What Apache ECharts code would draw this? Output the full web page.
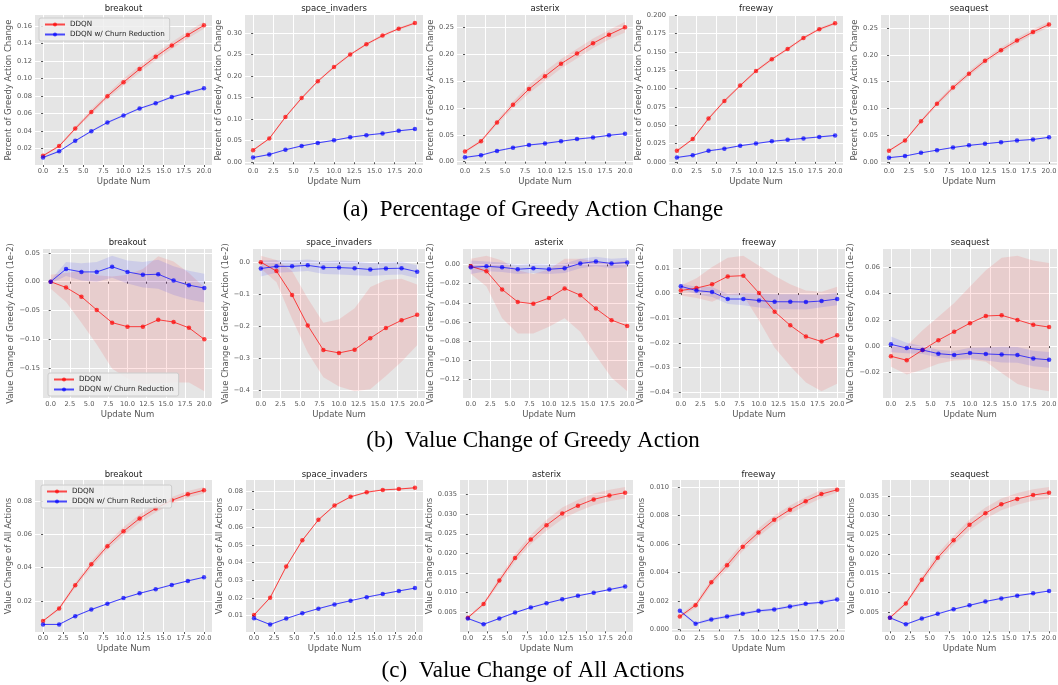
<!DOCTYPE html>
<html>
<head>
<meta charset="utf-8">
<script src="https://cdn.jsdelivr.net/npm/echarts@6/dist/echarts.min.js"></script>
<style>
  html, body { margin: 0; padding: 0; background: #fff; }
  #chart { width: 1058px; height: 685px; }
</style>
</head>
<body>
<div id="chart"></div>
<script>
// ---- data ----
const updateNum = [0, 2, 4, 6, 8, 10, 12, 14, 16, 18, 20];
const xTicks = [0, 2.5, 5, 7.5, 10, 12.5, 15, 17.5, 20];
const games = ["breakout", "space_invaders", "asterix", "freeway", "seaquest"];
const legendNames = ["DDQN", "DDQN w/ Churn Reduction"];

// (a) percent of greedy action change
const pctBreakoutDdqn = [0.012, 0.023, 0.043, 0.062, 0.080, 0.096, 0.111, 0.125, 0.138, 0.150, 0.161];
const pctBreakoutDdqnSd = [0.001, 0.0015, 0.002, 0.003, 0.003, 0.004, 0.004, 0.004, 0.004, 0.004, 0.004];
const pctBreakoutChurn = [0.010, 0.017, 0.029, 0.040, 0.050, 0.058, 0.066, 0.072, 0.079, 0.084, 0.089];
const pctBreakoutChurnSd = [0.0008, 0.001, 0.001, 0.0012, 0.0012, 0.0012, 0.0012, 0.0012, 0.0012, 0.0012, 0.0012];

const pctSpaceDdqn = [0.028, 0.055, 0.105, 0.149, 0.188, 0.221, 0.250, 0.274, 0.294, 0.310, 0.323];
const pctSpaceDdqnSd = [0.002, 0.002, 0.003, 0.003, 0.003, 0.003, 0.003, 0.003, 0.003, 0.003, 0.003];
const pctSpaceChurn = [0.011, 0.018, 0.029, 0.038, 0.045, 0.051, 0.058, 0.063, 0.067, 0.073, 0.077];
const pctSpaceChurnSd = [0.0015, 0.0015, 0.0015, 0.0015, 0.0015, 0.0015, 0.0015, 0.0015, 0.0015, 0.0015, 0.0015];

const pctAsterixDdqn = [0.019, 0.038, 0.073, 0.106, 0.135, 0.159, 0.182, 0.201, 0.220, 0.236, 0.250];
const pctAsterixDdqnSd = [0.002, 0.003, 0.004, 0.006, 0.008, 0.009, 0.009, 0.009, 0.009, 0.009, 0.010];
const pctAsterixChurn = [0.008, 0.012, 0.020, 0.026, 0.031, 0.034, 0.038, 0.042, 0.045, 0.049, 0.052];
const pctAsterixChurnSd = [0.0015, 0.0015, 0.0015, 0.0015, 0.0015, 0.0015, 0.0015, 0.0015, 0.0015, 0.0015, 0.0015];

const pctFreewayDdqn = [0.015, 0.031, 0.059, 0.083, 0.104, 0.124, 0.140, 0.154, 0.169, 0.181, 0.189];
const pctFreewayDdqnSd = [0.0015, 0.0015, 0.002, 0.002, 0.002, 0.002, 0.002, 0.002, 0.002, 0.002, 0.002];
const pctFreewayChurn = [0.006, 0.009, 0.015, 0.018, 0.022, 0.025, 0.028, 0.030, 0.032, 0.034, 0.036];
const pctFreewayChurnSd = [0.001, 0.001, 0.001, 0.001, 0.001, 0.001, 0.001, 0.001, 0.001, 0.001, 0.001];

const pctSeaquestDdqn = [0.021, 0.040, 0.076, 0.109, 0.139, 0.165, 0.189, 0.209, 0.227, 0.243, 0.257];
const pctSeaquestDdqnSd = [0.002, 0.002, 0.003, 0.004, 0.005, 0.005, 0.005, 0.005, 0.005, 0.005, 0.005];
const pctSeaquestChurn = [0.008, 0.011, 0.017, 0.022, 0.027, 0.031, 0.034, 0.037, 0.040, 0.042, 0.046];
const pctSeaquestChurnSd = [0.001, 0.001, 0.001, 0.001, 0.001, 0.001, 0.001, 0.001, 0.001, 0.001, 0.001];

// (b) value change of greedy action (1e-2)
const greedyBreakoutDdqn = [0.000, -0.010, -0.026, -0.049, -0.071, -0.078, -0.078, -0.066, -0.070, -0.080, -0.100];
const greedyBreakoutDdqnSd = [0.012, 0.025, 0.045, 0.060, 0.080, 0.090, 0.100, 0.110, 0.105, 0.095, 0.090];
const greedyBreakoutChurn = [0.000, 0.022, 0.017, 0.017, 0.026, 0.017, 0.012, 0.013, 0.002, -0.006, -0.011];
const greedyBreakoutChurnSd = [0.003, 0.012, 0.015, 0.017, 0.019, 0.020, 0.022, 0.025, 0.025, 0.025, 0.025];

const greedySpaceDdqn = [0.000, -0.028, -0.103, -0.198, -0.275, -0.284, -0.274, -0.238, -0.206, -0.182, -0.165];
const greedySpaceDdqnSd = [0.020, 0.035, 0.075, 0.085, 0.085, 0.105, 0.130, 0.160, 0.150, 0.130, 0.095];
const greedySpaceChurn = [-0.020, -0.013, -0.013, -0.010, -0.017, -0.017, -0.019, -0.023, -0.020, -0.019, -0.030];
const greedySpaceChurnSd = [0.025, 0.020, 0.018, 0.018, 0.020, 0.022, 0.022, 0.020, 0.020, 0.020, 0.020];

const greedyAsterixDdqn = [-0.002, -0.007, -0.026, -0.039, -0.041, -0.035, -0.025, -0.032, -0.046, -0.058, -0.064];
const greedyAsterixDdqnSd = [0.008, 0.016, 0.030, 0.033, 0.031, 0.030, 0.031, 0.038, 0.049, 0.060, 0.068];
const greedyAsterixChurn = [-0.003, -0.002, -0.003, -0.005, -0.004, -0.005, -0.004, 0.001, 0.003, 0.001, 0.002];
const greedyAsterixChurnSd = [0.007, 0.005, 0.005, 0.005, 0.005, 0.005, 0.005, 0.005, 0.005, 0.005, 0.005];

const greedyFreewayDdqn = [0.001, 0.002, 0.0035, 0.0067, 0.007, 0.000, -0.0075, -0.013, -0.0175, -0.0195, -0.017];
const greedyFreewayDdqnSd = [0.002, 0.004, 0.007, 0.0075, 0.008, 0.011, 0.0145, 0.0165, 0.0185, 0.020, 0.0195];
const greedyFreewayChurn = [0.0027, 0.001, 0.0004, -0.0024, -0.0024, -0.003, -0.0035, -0.0035, -0.0036, -0.0032, -0.0024];
const greedyFreewayChurnSd = [0.001, 0.0015, 0.002, 0.002, 0.0025, 0.0028, 0.003, 0.003, 0.003, 0.0025, 0.0025];

const greedySeaquestDdqn = [-0.0078, -0.0108, -0.003, 0.0045, 0.011, 0.0175, 0.023, 0.0235, 0.020, 0.0163, 0.0145];
const greedySeaquestDdqnSd = [0.008, 0.011, 0.015, 0.018, 0.022, 0.028, 0.035, 0.044, 0.049, 0.049, 0.049];
const greedySeaquestChurn = [0.0013, -0.0015, -0.003, -0.0058, -0.0068, -0.0053, -0.006, -0.0065, -0.0068, -0.0095, -0.0105];
const greedySeaquestChurnSd = [0.006, 0.004, 0.003, 0.003, 0.003, 0.004, 0.005, 0.006, 0.006, 0.006, 0.006];

// (c) value change of all actions
const allBreakoutDdqn = [0.0078, 0.0153, 0.0294, 0.042, 0.053, 0.062, 0.0697, 0.0758, 0.0807, 0.0843, 0.0868];
const allBreakoutDdqnSd = [0.0005, 0.001, 0.0015, 0.002, 0.002, 0.0025, 0.0025, 0.0025, 0.002, 0.002, 0.002];
const allBreakoutChurn = [0.0057, 0.0057, 0.0107, 0.0147, 0.0182, 0.0216, 0.0245, 0.0270, 0.0296, 0.0320, 0.0342];
const allBreakoutChurnSd = [0.0004, 0.0004, 0.0004, 0.0004, 0.0004, 0.0004, 0.0004, 0.0004, 0.0004, 0.0004, 0.0004];

const allSpaceDdqn = [0.0103, 0.0201, 0.0377, 0.0525, 0.0641, 0.0722, 0.0771, 0.0797, 0.0810, 0.0815, 0.0822];
const allSpaceDdqnSd = [0.0004, 0.0005, 0.0005, 0.0005, 0.0005, 0.0005, 0.0005, 0.0005, 0.0005, 0.0005, 0.0005];
const allSpaceChurn = [0.0085, 0.0049, 0.0083, 0.0113, 0.0139, 0.0163, 0.0184, 0.0204, 0.0222, 0.0239, 0.0255];
const allSpaceChurnSd = [0.0003, 0.0003, 0.0003, 0.0003, 0.0003, 0.0003, 0.0003, 0.0003, 0.0003, 0.0003, 0.0003];

const allAsterixDdqn = [0.0035, 0.007, 0.013, 0.0188, 0.0235, 0.0272, 0.0302, 0.0322, 0.0338, 0.0348, 0.0355];
const allAsterixDdqnSd = [0.0003, 0.0005, 0.0008, 0.001, 0.0012, 0.0014, 0.0015, 0.0015, 0.0015, 0.0015, 0.0015];
const allAsterixChurn = [0.0033, 0.0018, 0.0033, 0.0048, 0.0061, 0.0072, 0.0082, 0.0091, 0.0099, 0.0107, 0.0115];
const allAsterixChurnSd = [0.0002, 0.0002, 0.0002, 0.0002, 0.0002, 0.0002, 0.0002, 0.0002, 0.0002, 0.0002, 0.0002];

const allFreewayDdqn = [0.0009, 0.0017, 0.0033, 0.0045, 0.0058, 0.0068, 0.0077, 0.0084, 0.0090, 0.0095, 0.0098];
const allFreewayDdqnSd = [0.0001, 0.0002, 0.0002, 0.0003, 0.0003, 0.0003, 0.0003, 0.0003, 0.0003, 0.0003, 0.0002];
const allFreewayChurn = [0.0013, 0.0004, 0.0007, 0.0009, 0.0011, 0.0013, 0.0014, 0.0016, 0.0018, 0.0019, 0.0021];
const allFreewayChurnSd = [0.0001, 0.0001, 0.0001, 0.0001, 0.0001, 0.0001, 0.0001, 0.0001, 0.0001, 0.0001, 0.0001];

const allSeaquestDdqn = [0.0035, 0.0072, 0.0133, 0.019, 0.0235, 0.0275, 0.0305, 0.0328, 0.0342, 0.0352, 0.0358];
const allSeaquestDdqnSd = [0.0003, 0.0005, 0.0008, 0.001, 0.0012, 0.0014, 0.0015, 0.0015, 0.0015, 0.0015, 0.0015];
const allSeaquestChurn = [0.0035, 0.0018, 0.0033, 0.0045, 0.0057, 0.0067, 0.0077, 0.0085, 0.0092, 0.0098, 0.0104];
const allSeaquestChurnSd = [0.0002, 0.0002, 0.0002, 0.0002, 0.0002, 0.0002, 0.0002, 0.0002, 0.0002, 0.0002, 0.0002];

// y tick labels per panel
const yTicksA = [
  [0.02, 0.04, 0.06, 0.08, 0.10, 0.12, 0.14, 0.16],
  [0.00, 0.05, 0.10, 0.15, 0.20, 0.25, 0.30],
  [0.00, 0.05, 0.10, 0.15, 0.20, 0.25],
  [0.000, 0.025, 0.050, 0.075, 0.100, 0.125, 0.150, 0.175, 0.200],
  [0.00, 0.05, 0.10, 0.15, 0.20, 0.25]
];
const yTicksB = [
  [-0.15, -0.10, -0.05, 0.00, 0.05],
  [-0.4, -0.3, -0.2, -0.1, 0.0],
  [-0.12, -0.10, -0.08, -0.06, -0.04, -0.02, 0.00],
  [-0.04, -0.03, -0.02, -0.01, 0.00, 0.01],
  [-0.02, 0.00, 0.02, 0.04, 0.06]
];
const yTicksC = [
  [0.02, 0.04, 0.06, 0.08],
  [0.01, 0.02, 0.03, 0.04, 0.05, 0.06, 0.07, 0.08],
  [0.005, 0.010, 0.015, 0.020, 0.025, 0.030, 0.035],
  [0.000, 0.002, 0.004, 0.006, 0.008, 0.010],
  [0.005, 0.010, 0.015, 0.020, 0.025, 0.030, 0.035]
];
const yDecimals = [[2, 2, 2, 3, 2], [2, 1, 2, 2, 2], [2, 2, 3, 3, 3]];
const yNames = ["Percent of Greedy Action Change", "Value Change of Greedy Action (1e-2)", "Value Change of All Actions"];
const captions = ["(a)  Percentage of Greedy Action Change", "(b)  Value Change of Greedy Action", "(c)  Value Change of All Actions"];

const rows = [
  [
    [pctBreakoutDdqn, pctBreakoutDdqnSd, pctBreakoutChurn, pctBreakoutChurnSd],
    [pctSpaceDdqn, pctSpaceDdqnSd, pctSpaceChurn, pctSpaceChurnSd],
    [pctAsterixDdqn, pctAsterixDdqnSd, pctAsterixChurn, pctAsterixChurnSd],
    [pctFreewayDdqn, pctFreewayDdqnSd, pctFreewayChurn, pctFreewayChurnSd],
    [pctSeaquestDdqn, pctSeaquestDdqnSd, pctSeaquestChurn, pctSeaquestChurnSd]
  ],
  [
    [greedyBreakoutDdqn, greedyBreakoutDdqnSd, greedyBreakoutChurn, greedyBreakoutChurnSd],
    [greedySpaceDdqn, greedySpaceDdqnSd, greedySpaceChurn, greedySpaceChurnSd],
    [greedyAsterixDdqn, greedyAsterixDdqnSd, greedyAsterixChurn, greedyAsterixChurnSd],
    [greedyFreewayDdqn, greedyFreewayDdqnSd, greedyFreewayChurn, greedyFreewayChurnSd],
    [greedySeaquestDdqn, greedySeaquestDdqnSd, greedySeaquestChurn, greedySeaquestChurnSd]
  ],
  [
    [allBreakoutDdqn, allBreakoutDdqnSd, allBreakoutChurn, allBreakoutChurnSd],
    [allSpaceDdqn, allSpaceDdqnSd, allSpaceChurn, allSpaceChurnSd],
    [allAsterixDdqn, allAsterixDdqnSd, allAsterixChurn, allAsterixChurnSd],
    [allFreewayDdqn, allFreewayDdqnSd, allFreewayChurn, allFreewayChurnSd],
    [allSeaquestDdqn, allSeaquestDdqnSd, allSeaquestChurn, allSeaquestChurnSd]
  ]
];
const yTicks = [yTicksA, yTicksB, yTicksC];

// ---- layout ----
const rowTop = [15, 249, 480];
const rowBottom = [165, 398, 632];
const colLeft = [[35, 245, 457, 669, 881], [43, 253, 463, 673, 883], [35, 246, 460, 672, 882]];
const colRight = [[212, 423, 633, 843, 1057], [212, 425, 635, 845, 1057], [212, 423, 633, 845, 1057]];
const nameCenterGap = [[23, 23, 24, 28, 25], [28, 25, 30, 29, 29], [23, 23, 28, 28, 28]];
const titleTop = [4, 238, 470];
const captionTop = [198, 429, 659];
const legendPos = [[39, 18], [48, 373], [41, 485]];

const RED = "rgba(255,0,0,0.7)";
const BLUE = "rgba(0,0,255,0.7)";
const RED_BAND = "rgba(255,0,0,0.1)";
const BLUE_BAND = "rgba(0,0,255,0.1)";
const TICK_COLOR = "#555";

const fmt = (v, d) => (v < -1e-12 ? "\u2212" + (-v).toFixed(d) : Math.abs(v).toFixed(d));

const chart = echarts.init(document.getElementById("chart"));
const grid = [], xAxis = [], yAxis = [], series = [], title = [];

rows.forEach((panels, r) => {
  panels.forEach((p, c) => {
    const idx = grid.length;
    const [ddqn, ddqnSd, churn, churnSd] = p;
    const left = colLeft[r][c], right = colRight[r][c];
    // y extent like matplotlib autoscale (5% margin)
    let lo = Infinity, hi = -Infinity;
    ddqn.forEach((v, k) => { lo = Math.min(lo, v - ddqnSd[k]); hi = Math.max(hi, v + ddqnSd[k]); });
    churn.forEach((v, k) => { lo = Math.min(lo, v - churnSd[k]); hi = Math.max(hi, v + churnSd[k]); });
    const pad = (hi - lo) * 0.05;

    grid.push({
      left: left, top: rowTop[r], width: right - left, height: rowBottom[r] - rowTop[r],
      show: true, backgroundColor: "#E5E5E5", borderWidth: 0, containLabel: false, outerBoundsMode: "none"
    });
    title.push({
      text: games[c], left: (left + right) / 2, top: titleTop[r], textAlign: "center", padding: 0,
      textStyle: { fontSize: 8.5, fontWeight: "normal", color: "#222", fontFamily: "DejaVu Sans" }
    });
    xAxis.push({
      type: "value", gridIndex: idx, min: -1, max: 21,
      name: "Update Num", nameLocation: "middle", nameGap: 12,
      nameTextStyle: { fontSize: 8.5, color: TICK_COLOR, fontFamily: "DejaVu Sans" },
      axisLine: { show: false },
      axisTick: { show: true, customValues: xTicks, length: 2, lineStyle: { color: TICK_COLOR } },
      axisLabel: { customValues: xTicks, formatter: (v) => v.toFixed(1), fontSize: 6.7, color: TICK_COLOR, margin: 3, fontFamily: "DejaVu Sans" },
      splitLine: { show: true, lineStyle: { color: "#fff", width: 1 } }
    });
    yAxis.push({
      type: "value", gridIndex: idx, min: lo - pad, max: hi + pad,
      name: yNames[r], nameLocation: "middle", nameGap: nameCenterGap[r][c] - 4.5,
      nameTextStyle: { fontSize: 8.5, color: TICK_COLOR, fontFamily: "DejaVu Sans" },
      axisLine: { show: false },
      axisTick: { show: true, customValues: yTicks[r][c], length: 2, lineStyle: { color: TICK_COLOR } },
      axisLabel: { customValues: yTicks[r][c], formatter: (v) => fmt(v, yDecimals[r][c]), fontSize: 6.7, color: TICK_COLOR, margin: 3, fontFamily: "DejaVu Sans" },
      splitLine: { show: true, lineStyle: { color: "#fff", width: 1 } }
    });

    // shaded band (mean +/- spread) drawn as one polygon through the axis scales
    const band = (mean, sd, color) => series.push({
      type: "custom", xAxisIndex: idx, yAxisIndex: idx, silent: true, z: 1,
      data: updateNum.map((x, k) => [x, mean[k] - sd[k], mean[k] + sd[k]]),
      encode: { x: 0, y: [1, 2] },
      renderItem: (params, api) => {
        if (params.dataIndex !== 0) return;
        const upper = updateNum.map((x, k) => api.coord([x, mean[k] + sd[k]]));
        const lower = updateNum.map((x, k) => api.coord([x, mean[k] - sd[k]])).reverse();
        return { type: "polygon", shape: { points: upper.concat(lower) }, style: { fill: color } };
      }
    });
    band(ddqn, ddqnSd, RED_BAND);
    band(churn, churnSd, BLUE_BAND);

    const line = (name, vals, color) => series.push({
      name: name, type: "line", xAxisIndex: idx, yAxisIndex: idx,
      data: updateNum.map((x, k) => [x, vals[k]]),
      symbol: "circle", symbolSize: 4.5, showSymbol: true,
      itemStyle: { color: color }, lineStyle: { color: color, width: 1 }, z: 3
    });
    line(legendNames[0], ddqn, RED);
    line(legendNames[1], churn, BLUE);
  });
  title.push({
    text: captions[r], left: 533, top: captionTop[r], textAlign: "center", padding: 0,
    textStyle: { fontSize: 23, fontWeight: "normal", color: "#000", fontFamily: "Liberation Serif" }
  });
});

const legend = legendPos.map(([l, t]) => ({
  data: legendNames, orient: "vertical", left: l, top: t,
  itemWidth: 20, itemHeight: 5, itemGap: 3, padding: [3, 5],
  backgroundColor: "rgba(238,238,238,0.85)", borderColor: "#ccc", borderWidth: 1, borderRadius: 2,
  textStyle: { fontSize: 7.2, color: "#222", fontFamily: "DejaVu Sans" },
  selectedMode: false
}));

chart.setOption({
  animation: false,
  backgroundColor: "#fff",
  title: title,
  legend: legend,
  grid: grid,
  xAxis: xAxis,
  yAxis: yAxis,
  series: series
});
</script>
</body>
</html>
